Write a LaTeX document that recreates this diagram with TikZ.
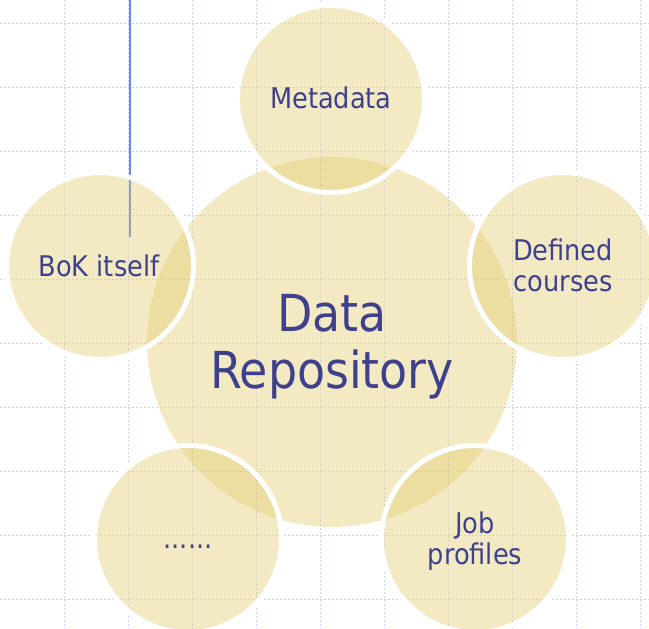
\documentclass[tikz,border=0pt]{standalone}
\usepackage{fontspec}
\setmainfont{DejaVu Sans Condensed}
\definecolor{bubblefill}{RGB}{224,201,104}
\definecolor{labelblue}{RGB}{62,64,140}
\definecolor{gridblue}{RGB}{200,212,248}
\definecolor{barblue}{RGB}{104,134,238}

\begin{document}
\begin{tikzpicture}[x=1pt,y=-1pt,
  gridline/.style={draw=gridblue, line width=0.9pt, dash pattern=on 2pt off 2pt},
  hub/.style={fill=bubblefill, fill opacity=0.39},
  bubble/.style={fill=bubblefill, fill opacity=0.39, draw=white, draw opacity=1, line width=5pt},
  small/.style={text=labelblue, align=center, font=\fontsize{28.5}{31}\selectfont},
  big/.style={text=labelblue, align=center, font=\fontsize{51}{57}\selectfont}]
\useasboundingbox (0,0) rectangle (649,629);
\clip (0,0) rectangle (649,629);

% background grid
\foreach \gx in {64,128,...,640}
  \draw[gridline] (\gx,0) -- (\gx,629);
\foreach \gy in {23,87,...,599}
  \draw[gridline] (0,\gy) -- (649,\gy);

% vertical bar
\coordinate (bar top) at (130,0);
\coordinate (bar end) at (130,237);
\draw[draw=barblue, line width=2pt] (bar top) -- (bar end);

% circles
\path[hub] (332,342) circle (185pt);
\path[bubble] (331,99) circle (93.5pt);
\path[bubble] (100,266) circle (93.5pt);
\path[bubble] (563,266) circle (93.5pt);
\path[bubble] (475,539) circle (93.5pt);
\path[bubble] (188,539) circle (93.5pt);

% texts
\node[big] (repo) at (332,347) {Data\\Repository};
\node[small] (meta) at (331,98) {Metadata};
\node[small] (bok) at (99,266) {BoK itself};
\node[small] (courses) at (563,265) {Defined\\courses};
\node[small] (jobs) at (475,541) {Job\\profiles};
\node[small] (dots) at (188,547) {......};
\end{tikzpicture}
\end{document}
